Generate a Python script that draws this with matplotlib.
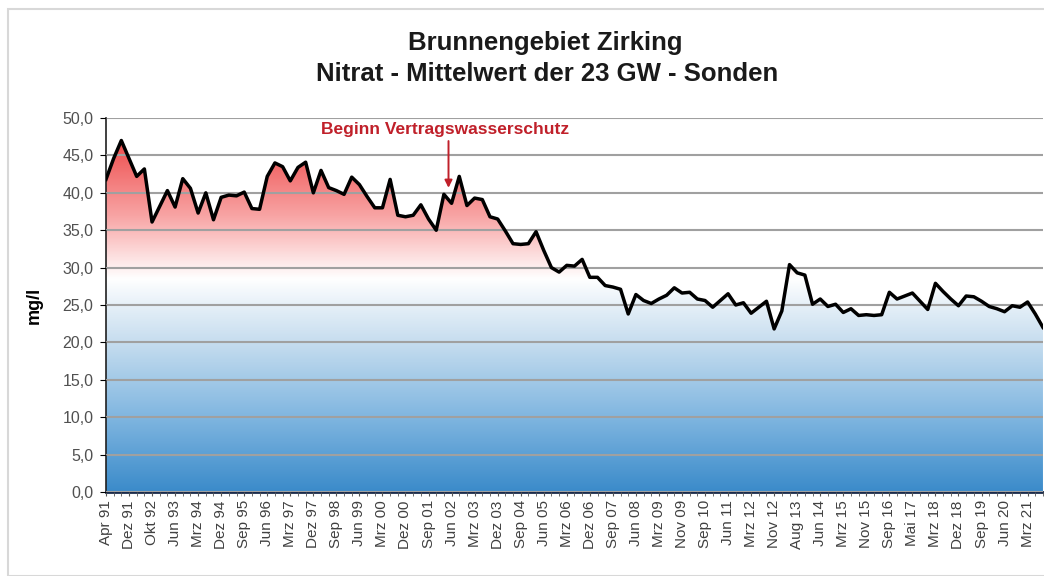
import matplotlib
matplotlib.use('Agg')
import numpy as np
import matplotlib.pyplot as plt
import matplotlib.ticker as ticker
from matplotlib.colors import LinearSegmentedColormap
from matplotlib.patches import Rectangle

plt.rcParams['font.family'] = ['Liberation Sans', 'DejaVu Sans']

# Nitrat, Mittelwert der 23 GW-Sonden (mg/l), one value per sampling
nitrat = [41.8, 44.6, 47.0, 44.6, 42.2, 43.2, 36.1, 38.2, 40.3, 38.1,
          41.9, 40.6, 37.3, 40.0, 36.4, 39.4, 39.7, 39.6, 40.1, 37.9,
          37.8, 42.2, 44.0, 43.5, 41.6, 43.4, 44.1, 40.0, 43.0, 40.7,
          40.3, 39.8, 42.1, 41.1, 39.5, 38.0, 38.0, 41.8, 37.0, 36.8,
          37.0, 38.4, 36.5, 35.0, 39.8, 38.6, 42.2, 38.3, 39.3, 39.1,
          36.8, 36.5, 34.9, 33.2, 33.1, 33.2, 34.8, 32.3, 30.0, 29.4,
          30.3, 30.2, 31.1, 28.7, 28.7, 27.6, 27.4, 27.1, 23.8, 26.4,
          25.6, 25.2, 25.8, 26.3, 27.3, 26.6, 26.7, 25.8, 25.6, 24.7,
          25.6, 26.5, 25.0, 25.3, 23.9, 24.7, 25.5, 21.8, 24.2, 30.4,
          29.3, 29.0, 25.1, 25.8, 24.8, 25.1, 24.0, 24.5, 23.6, 23.7,
          23.6, 23.7, 26.7, 25.8, 26.2, 26.6, 25.5, 24.4, 27.9, 26.8,
          25.8, 24.9, 26.2, 26.1, 25.5, 24.8, 24.5, 24.1, 24.9, 24.7,
          25.4, 23.8, 22.0]

# tick labels, one every third sampling
labels = ['Apr 91', 'Dez 91', 'Okt 92', 'Jun 93', 'Mrz 94', 'Dez 94', 'Sep 95',
          'Jun 96', 'Mrz 97', 'Dez 97', 'Sep 98', 'Jun 99', 'Mrz 00', 'Dez 00',
          'Sep 01', 'Jun 02', 'Mrz 03', 'Dez 03', 'Sep 04', 'Jun 05', 'Mrz 06',
          'Dez 06', 'Sep 07', 'Jun 08', 'Mrz 09', 'Nov 09', 'Sep 10', 'Jun 11',
          'Mrz 12', 'Nov 12', 'Aug 13', 'Jun 14', 'Mrz 15', 'Nov 15', 'Sep 16',
          'Mai 17', 'Mrz 18', 'Dez 18', 'Sep 19', 'Jun 20', 'Mrz 21']
label_step = 3
marker_idx = 45  # Jun 02

x = np.arange(len(nitrat))
y = np.array(nitrat)

fig = plt.figure(figsize=(10.44, 5.76), dpi=100)
ax = fig.add_axes([0.1015, 0.146, 0.8975, 0.649])

# red -> white -> blue gradient by value
cmap = LinearSegmentedColormap.from_list('nit', [
    (0.00, '#3b8bca'),
    (0.20, '#80b6e0'),
    (0.40, '#c6ddef'),
    (0.50, '#e6f0f8'),
    (0.57, '#ffffff'),
    (0.63, '#fde0e0'),
    (0.74, '#f8a4a4'),
    (0.92, '#ef5656'),
    (1.00, '#ea4646'),
])
grad = np.linspace(0, 1, 256).reshape(-1, 1)
poly = ax.fill_between(x, 0, y, facecolor='none', edgecolor='none')
img = ax.imshow(grad, cmap=cmap, origin='lower', aspect='auto',
                extent=[0, len(x) - 1, 0, 50], zorder=1)
img.set_clip_path(poly.get_paths()[0], transform=ax.transData)

ax.plot(x, y, color='black', lw=2.5, zorder=3, solid_joinstyle='round')

ax.set_xlim(0, len(x) - 1)
ax.set_ylim(0, 50)
ax.set_yticks(np.arange(0, 51, 5))
ax.yaxis.set_major_formatter(ticker.FuncFormatter(lambda v, p: f"{v:.1f}".replace('.', ',')))
ax.grid(axis='y', color='#a0a0a0', lw=1.5, zorder=2)
ax.set_axisbelow(False)
for gl in ax.get_ygridlines():
    gl.set_zorder(2)

ax.set_xticks(x, minor=True)
ax.set_xticks(x[::label_step][:len(labels)])
ax.set_xticklabels(labels, rotation=90, fontsize=11, color='#404040')
ax.tick_params(axis='x', which='both', length=3, color='#555555', pad=3)
ax.tick_params(axis='y', length=4, labelsize=11.5, labelcolor='#505050', pad=5)

for s in ['top', 'right']:
    ax.spines[s].set_visible(False)
ax.spines['left'].set_color('#202020')
ax.spines['left'].set_linewidth(1.2)
ax.spines['bottom'].set_color('#1a2a4a')
ax.spines['bottom'].set_linewidth(2)

ax.set_ylabel('mg/l', fontsize=13, fontweight='bold', labelpad=14)

fig.text(0.522, 0.925, 'Brunnengebiet Zirking', ha='center', va='center',
         fontsize=18.5, fontweight='bold', color='#1a1a1a')
fig.text(0.524, 0.872, 'Nitrat - Mittelwert der 23 GW - Sonden', ha='center', va='center',
         fontsize=18.5, fontweight='bold', color='#1a1a1a')

ax.annotate('', xy=(marker_idx - 0.4, 40.3), xytext=(marker_idx - 0.4, 47.3),
            arrowprops=dict(arrowstyle='-|>', color='#c0202a', lw=1.4,
                            mutation_scale=11), zorder=4)
ax.text(marker_idx - 0.8, 48.5, 'Beginn Vertragswasserschutz', ha='center', va='center',
        fontsize=12.5, fontweight='bold', color='#c0202a', zorder=4)

fig.patches.append(Rectangle((8 / 1044, 0.0), 1.0, 0.985, transform=fig.transFigure,
                             fill=False, edgecolor='#d8d8d8', lw=1.5))

fig.savefig('out.png', dpi=100)
